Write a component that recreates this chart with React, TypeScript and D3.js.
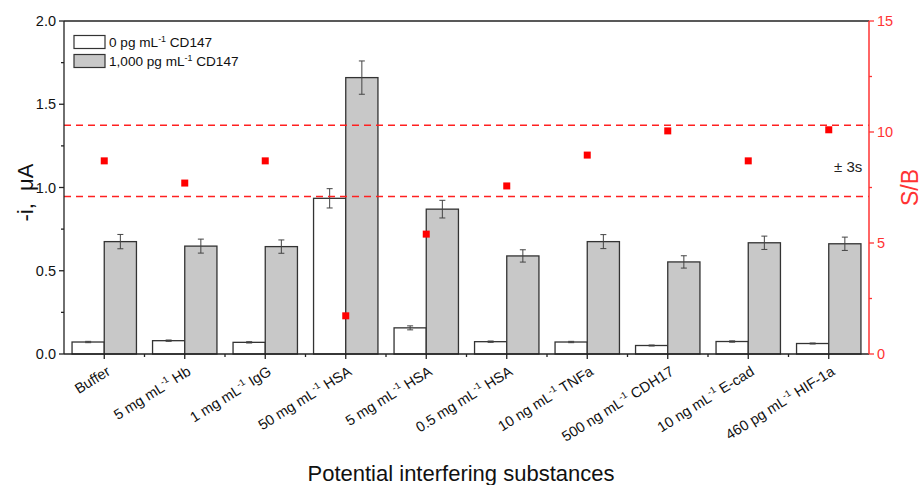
import React from "react";
import * as d3 from "d3";

const categories = [
  "Buffer",
  "5 mg mL^-1 Hb",
  "1 mg mL^-1 IgG",
  "50 mg mL^-1 HSA",
  "5 mg mL^-1 HSA",
  "0.5 mg mL^-1 HSA",
  "10 ng mL^-1 TNFa",
  "500 ng mL^-1 CDH17",
  "10 ng mL^-1 E-cad",
  "460 pg mL^-1 HIF-1a",
];
const blankValues = [0.072, 0.08, 0.07, 0.935, 0.157, 0.074, 0.072, 0.051, 0.075, 0.063];
const blankErrors = [0.004, 0.004, 0.004, 0.058, 0.012, 0.004, 0.004, 0.003, 0.004, 0.003];
const targetValues = [0.675, 0.648, 0.645, 1.66, 0.87, 0.589, 0.675, 0.553, 0.668, 0.662];
const targetErrors = [0.043, 0.042, 0.04, 0.1, 0.053, 0.037, 0.042, 0.037, 0.04, 0.04];
const sbValues = [8.7, 7.7, 8.7, 1.72, 5.4, 7.57, 8.96, 10.05, 8.7, 10.1];
const sbLimits = [7.1, 10.3];
const leftTicks = [0, 0.5, 1.0, 1.5, 2.0];
const leftMinor = [0.25, 0.75, 1.25, 1.75];
const rightTicks = [0, 5, 10, 15];
const rightMinor = [2.5, 7.5, 12.5];
const legendLabels = ["0 pg mL^-1 CD147", "1,000 pg mL^-1 CD147"];

const W = 923;
const H = 485;
const M = { left: 64, right: 869, top: 21, bottom: 354 };
const RED = "#ff3333";
const FONT = "'Liberation Sans', Arial, sans-serif";

function SupText({ text, size }: { text: string; size: number }) {
  const parts = text.split("^-1");
  if (parts.length === 1) return <>{text}</>;
  const sup = size * 0.65;
  const shift = size * 0.4;
  return (
    <>
      <tspan>{parts[0]}</tspan>
      <tspan dy={-shift} fontSize={sup}>-1</tspan>
      <tspan dy={shift}>{parts[1]}</tspan>
    </>
  );
}

export default function App() {
  const x = d3.scaleBand<string>().domain(categories).range([M.left, M.right]).paddingInner(0.2).paddingOuter(0.1);
  const band = (M.right - M.left) / categories.length;
  const barW = x.bandwidth() / 2;
  const yL = d3.scaleLinear().domain([0, 2]).range([M.bottom, M.top]);
  const yR = d3.scaleLinear().domain([0, 15]).range([M.bottom, M.top]);
  const center = (c: string) => (x(c) as number) + x.bandwidth() / 2;

  const errBar = (cx: number, v: number, e: number, key: string) => {
    const y1 = yL(v + e);
    const y2 = yL(v - e);
    return (
      <g key={key} stroke="#444" strokeWidth={1}>
        <line x1={cx} x2={cx} y1={y1} y2={y2} />
        <line x1={cx - 3} x2={cx + 3} y1={y1} y2={y1} />
        <line x1={cx - 3} x2={cx + 3} y1={y2} y2={y2} />
      </g>
    );
  };

  return (
    <svg width={W} height={H} style={{ position: "absolute", left: 0, top: 0 }} fontFamily={FONT}>
      <rect width={W} height={H} fill="#fff" />
      {/* bars */}
      {categories.map((c, i) => {
        const cx = center(c);
        return (
          <g key={c}>
            <rect x={cx - barW} y={yL(blankValues[i])} width={barW} height={yL(0) - yL(blankValues[i])} fill="#fff" stroke="#333" strokeWidth={1.3} />
            <rect x={cx} y={yL(targetValues[i])} width={barW} height={yL(0) - yL(targetValues[i])} fill="#c8c8c8" stroke="#333" strokeWidth={1.3} />
            {errBar(cx - barW / 2, blankValues[i], blankErrors[i], "be" + i)}
            {errBar(cx + barW / 2, targetValues[i], targetErrors[i], "te" + i)}
          </g>
        );
      })}
      {/* dashed limits */}
      {sbLimits.map((v, i) => (
        <line key={"lim" + i} x1={M.left} x2={M.right} y1={yR(v)} y2={yR(v)} stroke="#ff2020" strokeWidth={1.5} strokeDasharray="7,5" />
      ))}
      {/* S/B squares */}
      {categories.map((c, i) => (
        <rect key={"sb" + i} x={center(c) - 3.5} y={yR(sbValues[i]) - 3.5} width={7} height={7} fill="#ff0000" />
      ))}
      <text x={834} y={172} fontSize={15} fill="#222">± 3s</text>
      {/* frame */}
      <line x1={M.left} x2={M.right} y1={M.top} y2={M.top} stroke="#222" strokeWidth={1.3} />
      <line x1={M.left} x2={M.right} y1={M.bottom} y2={M.bottom} stroke="#222" strokeWidth={1.5} />
      <line x1={M.left} x2={M.left} y1={M.top} y2={M.bottom} stroke="#222" strokeWidth={1.3} />
      <line x1={M.right} x2={M.right} y1={M.top} y2={M.bottom} stroke={RED} strokeWidth={1.5} />
      {/* left ticks */}
      {leftTicks.map((t) => (
        <g key={"lt" + t}>
          <line x1={M.left - 5} x2={M.left} y1={yL(t)} y2={yL(t)} stroke="#222" strokeWidth={1.3} />
          <text x={M.left - 8} y={yL(t) + 5} fontSize={14.5} textAnchor="end" fill="#111">{t.toFixed(1)}</text>
        </g>
      ))}
      {leftMinor.map((t) => (
        <line key={"lm" + t} x1={M.left - 3} x2={M.left} y1={yL(t)} y2={yL(t)} stroke="#222" strokeWidth={1.3} />
      ))}
      {/* right ticks */}
      {rightTicks.map((t) => (
        <g key={"rt" + t}>
          <line x1={M.right} x2={M.right + 5} y1={yR(t)} y2={yR(t)} stroke={RED} strokeWidth={1.3} />
          <text x={M.right + 8} y={yR(t) + 5} fontSize={14.5} fill={RED}>{t}</text>
        </g>
      ))}
      {rightMinor.map((t) => (
        <line key={"rm" + t} x1={M.right} x2={M.right + 3} y1={yR(t)} y2={yR(t)} stroke={RED} strokeWidth={1.3} />
      ))}
      {/* x ticks */}
      {categories.map((c, i) => (
        <g key={"xt" + i}>
          <line x1={center(c)} x2={center(c)} y1={M.bottom} y2={M.bottom + 5} stroke="#222" strokeWidth={1.3} />
          {i > 0 && (
            <line x1={M.left + band * i} x2={M.left + band * i} y1={M.bottom} y2={M.bottom + 3} stroke="#222" strokeWidth={1.3} />
          )}
          <text
            transform={`translate(${center(c) + 7},${M.bottom + 20}) rotate(-32)`}
            textAnchor="end"
            fontSize={14.5}
            fill="#111"
          >
            <SupText text={c} size={14.5} />
          </text>
        </g>
      ))}
      {/* axis titles */}
      <text x={461} y={480.5} fontSize={22} textAnchor="middle" fill="#111">Potential interfering substances</text>
      <text transform={`translate(33,${(M.top + M.bottom) / 2 + 5}) rotate(-90)`} fontSize={22} textAnchor="middle" fill="#111" style={{ whiteSpace: "pre" }}>
        {"-i,  μA"}
      </text>
      <text transform={`translate(918,${(M.top + M.bottom) / 2}) rotate(-90)`} fontSize={23} textAnchor="middle" fill={RED}>
        S/B
      </text>
      {/* legend */}
      {legendLabels.map((l, i) => (
        <g key={"lg" + i}>
          <rect x={74} y={35.5 + i * 19} width={31} height={13} fill={i === 0 ? "#fff" : "#c8c8c8"} stroke="#333" strokeWidth={1.2} />
          <text x={109} y={47 + i * 19} fontSize={13.6} fill="#111">
            <SupText text={l} size={13.6} />
          </text>
        </g>
      ))}
    </svg>
  );
}
